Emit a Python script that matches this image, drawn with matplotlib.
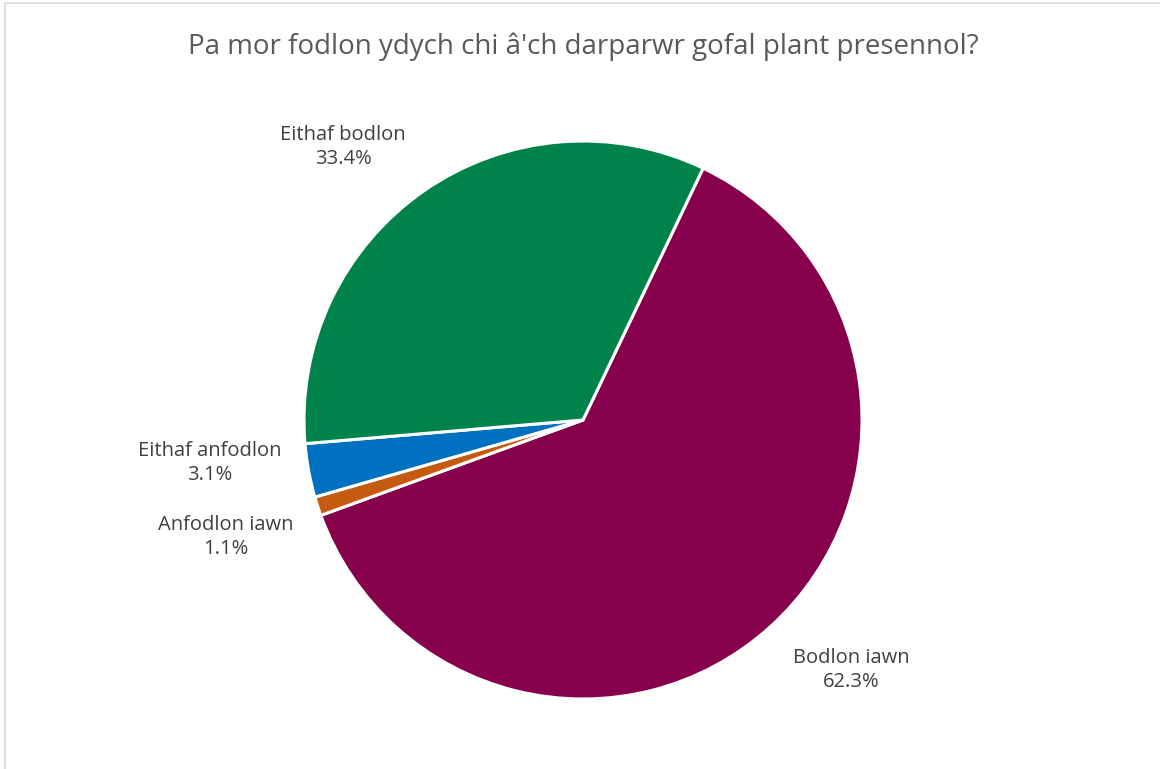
import matplotlib
matplotlib.use("Agg")
import matplotlib.pyplot as plt
from matplotlib.patches import Rectangle

# data
labels = ["Bodlon iawn", "Anfodlon iawn", "Eithaf anfodlon", "Eithaf bodlon"]
values = [62.3, 1.1, 3.1, 33.4]
colors = ["#87004B", "#C55A11", "#0070C0", "#00834A"]

title = "Pa mor fodlon ydych chi â'ch darparwr gofal plant presennol?"

# label centres in pixels (x, y from top)
label_pos = [(851, 670), (226, 537), (210, 463), (343, 147)]

plt.rcParams['font.family'] = ['Open Sans', 'DejaVu Sans']

W, H = 1160, 769
fig = plt.figure(figsize=(W / 100, H / 100), dpi=100)
ax = fig.add_axes([0, 0, 1, 1])

# chart border
ax.add_patch(Rectangle((5, -10), W + 20, H - 3 + 10, fill=False,
                       edgecolor='#D9D9D9', linewidth=1.2))

cx, cy, r = 583, H - 420, 279
ax.pie(values, colors=colors, startangle=64.5, counterclock=False,
       center=(cx, cy), radius=r, frame=True,
       wedgeprops=dict(edgecolor='white', linewidth=2.2))
ax.set_xlim(0, W)
ax.set_ylim(0, H)
ax.set_aspect('equal')
ax.axis('off')

for lab, v, (x, y) in zip(labels, values, label_pos):
    ax.text(x, H - y, f"{lab}\n{v:.1f}%", ha='center', va='center',
            fontsize=14.5, color='#404040', linespacing=1.3)

ax.text(583, H - 47, title, ha='center', va='center', fontsize=20,
        color='#595959')

fig.savefig("out.png", dpi=100)
